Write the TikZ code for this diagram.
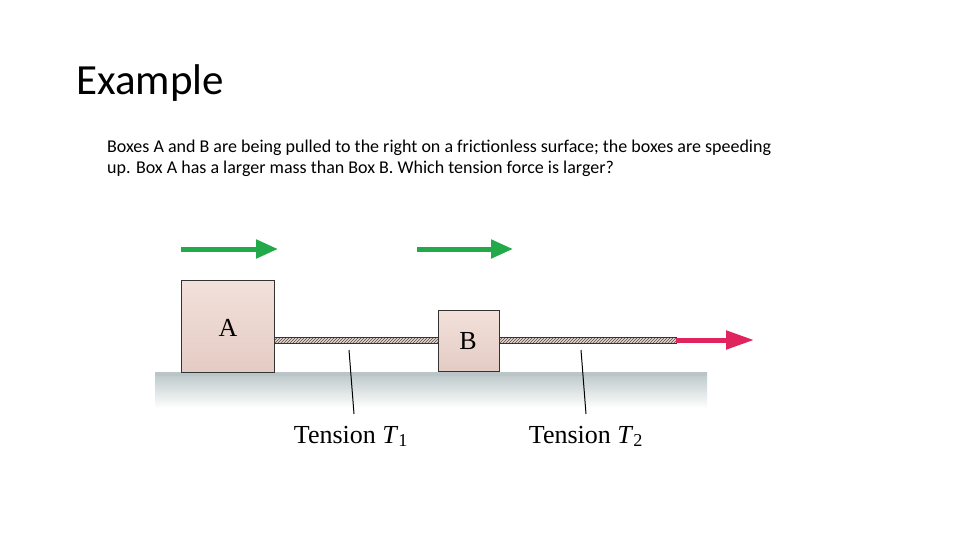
\documentclass[tikz,border=0pt]{standalone}
\usepackage{fontspec}
\setmainfont{Liberation Serif}
\newfontfamily\calfont{Carlito}
\usetikzlibrary{arrows.meta,patterns}
\begin{document}
\begin{tikzpicture}[x=1pt,y=-1pt,
  box/.style={draw=black!80,line width=0.8pt,top color=boxa,bottom color=boxb,anchor=north west,inner sep=0pt},
  green/.style={draw=arrg,line width=5pt,-{Triangle[length=22pt,width=18pt]}},
  lbl/.style={font=\fontsize{26}{28}\selectfont,anchor=base}]
\definecolor{boxa}{HTML}{F2E0DA}\definecolor{boxb}{HTML}{E4CCC4}
\definecolor{ropec}{HTML}{E8D6CF}\definecolor{arrg}{HTML}{22AA4A}
\definecolor{arrr}{HTML}{E0245E}\definecolor{gnd}{HTML}{B9C5C7}
\useasboundingbox[fill=white] (0,0) rectangle (960,540);
\node[anchor=base west,font=\calfont\fontsize{43}{46}\selectfont] (title) at (73,95) {Example};
\node[anchor=base west,font=\calfont\fontsize{18}{21}\selectfont,align=left,inner sep=0pt] (txt) at (107,174)
 {Boxes A and B are being pulled to the right on a frictionless surface; the boxes are speeding\\up. Box A has a larger mass than Box B. Which tension force is larger?};
\shade[top color=gnd,bottom color=white] (155,372) rectangle (707,408);
\fill[gnd] (155,372) rectangle (707,376);
\fill[ropec] (274,337) rectangle (438,343);
\path[pattern=north east lines,pattern color=black!70] (274,337) rectangle (438,343);
\draw[black!80,line width=0.6pt] (274,337) rectangle (438,343);
\fill[ropec] (499,337) rectangle (676,343);
\path[pattern=north east lines,pattern color=black!70] (499,337) rectangle (676,343);
\draw[black!80,line width=0.6pt] (499,337) rectangle (676,343);
\node[box,minimum width=93pt,minimum height=92pt] (A) at (181,280) {};
\node[font=\fontsize{26}{28}\selectfont] at (228,328) {A};
\node[box,minimum width=61pt,minimum height=61pt] (B) at (438,310) {};
\node[font=\fontsize{26}{28}\selectfont] at (468,341) {B};
\coordinate (g1s) at (181,249); \coordinate (g1e) at (278,249);
\coordinate (g2s) at (417,249); \coordinate (g2e) at (513,249);
\draw[green] (g1s) -- (g1e);
\draw[green] (g2s) -- (g2e);
\coordinate (rs) at (676,340); \coordinate (re) at (754,340);
\draw[arrr,line width=5pt,-{Triangle[length=28pt,width=18pt]}] (rs) -- (re);
\node[lbl] (t1) at (351,443) {Tension \textit{T}\textsubscript{1}};
\node[lbl] (t2) at (586,443) {Tension \textit{T}\textsubscript{2}};
\draw[line width=1pt] (349,350) -- (354,414);
\draw[line width=1pt] (581,350) -- (586,414);
\end{tikzpicture}
\end{document}
